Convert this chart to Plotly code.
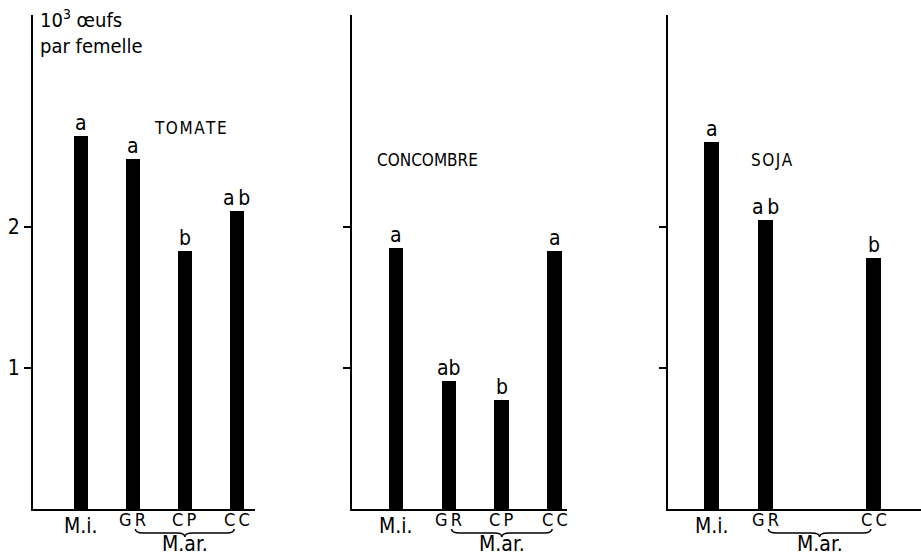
import plotly.graph_objects as go

categories = ["M.i.", "GR", "CP", "CC"]
panels = ["TOMATE", "CONCOMBRE", "SOJA"]

tomate_x = ["M.i.", "GR", "CP", "CC"]
tomate_vals = [2.64, 2.48, 1.83, 2.11]
tomate_sig = ["a", "a", "b", "a\u2009b"]

concombre_x = ["M.i.", "GR", "CP", "CC"]
concombre_vals = [1.85, 0.91, 0.77, 1.83]
concombre_sig = ["a", "ab", "b", "a"]

soja_x = ["M.i.", "GR", "CC"]
soja_vals = [2.60, 2.05, 1.78]
soja_sig = ["a", "a\u2009b", "b"]

tick_vals = [1, 2]
tick_text = ["1", "2"]

FONT = "DejaVu Sans Condensed, Roboto, sans-serif"
W, H = 921, 555

def py(p):
    return (H - p) / H

# panel geometry (pixel extents)
xdom = [(33, 255), (352, 567), (668, 921)]
xrng = [(-0.92, 3.35), (-0.83, 3.23), (-0.81, 3.88)]
ydom = [py(509), py(15)]

data = [(tomate_x, tomate_vals, tomate_sig),
        (concombre_x, concombre_vals, concombre_sig),
        (soja_x, soja_vals, soja_sig)]

fig = go.Figure()
annotations = []
shapes = []

for i, (xs, vals, sig) in enumerate(data):
    ax = "" if i == 0 else str(i + 1)
    fig.add_trace(go.Bar(x=xs, y=vals, xaxis="x" + ax, yaxis="y" + ax,
                         marker=dict(color="black", line=dict(width=0)),
                         width=0.28, showlegend=False, hoverinfo="skip"))
    xa = dict(domain=[xdom[i][0] / W, xdom[i][1] / W], range=list(xrng[i]),
              type="category", categoryorder="array", categoryarray=categories,
              showline=True, linecolor="black", linewidth=2, showticklabels=False,
              ticks="", showgrid=False, zeroline=False, anchor="y" + ax, fixedrange=True)
    ya = dict(domain=ydom, range=[0, 3.5], showline=True, linecolor="black", linewidth=2,
              ticks="outside", ticklen=7, tickwidth=2, tickcolor="black",
              tickvals=tick_vals, ticktext=tick_text, showticklabels=(i == 0),
              tickfont=dict(family=FONT, size=21, color="black"),
              showgrid=False, zeroline=False, anchor="x" + ax, fixedrange=True)
    fig.update_layout(**{"xaxis" + ax: xa, "yaxis" + ax: ya})

    # significance letters
    for x, v, s in zip(xs, vals, sig):
        annotations.append(dict(x=x, y=v, xref="x" + ax, yref="y" + ax, text=s,
                                showarrow=False, yanchor="bottom", yshift=-1,
                                font=dict(family=FONT, size=21, color="black")))
    # category labels
    for x in xs:
        if x == "M.i.":
            annotations.append(dict(x=x, y=py(526), xref="x" + ax, yref="paper", text="M.i.",
                                    showarrow=False, yanchor="middle",
                                    font=dict(family=FONT, size=21, color="black")))
        else:
            annotations.append(dict(x=x, y=py(519), xref="x" + ax, yref="paper",
                                    text="\u2009".join(list(x)),
                                    showarrow=False, yanchor="middle",
                                    font=dict(family=FONT, size=18, color="black")))
    # M.ar. group label with brace
    annotations.append(dict(x=2, y=py(544), xref="x" + ax, yref="paper", text="M.ar.",
                            showarrow=False, yanchor="middle",
                            font=dict(family=FONT, size=21, color="black")))
    x0, x1, xm = 1.05, 2.95, 2.0
    yt, ym, yb = py(529), py(533), py(537)
    q = 0.15
    path = (f"M {x0},{yt} Q {x0},{ym} {x0+q},{ym} L {xm-q},{ym} Q {xm},{ym} {xm},{yb} "
            f"Q {xm},{ym} {xm+q},{ym} L {x1-q},{ym} Q {x1},{ym} {x1},{yt}")
    shapes.append(dict(type="path", path=path, xref="x" + ax, yref="paper",
                       line=dict(color="black", width=1.5)))

# panel titles
title_pos = [(2.1, 128), (0.59, 160), (1.12, 160)]
for i, (name, (tx, ty)) in enumerate(zip(panels, title_pos)):
    ax = "" if i == 0 else str(i + 1)
    text = "\u200a".join(list(name)) if name != "CONCOMBRE" else name
    annotations.append(dict(x=tx, y=py(ty), xref="x" + ax, yref="paper", text=text,
                            showarrow=False, yanchor="middle",
                            font=dict(family=FONT, size=17, color="black")))

# y-axis unit label
annotations.append(dict(x=38 / W, y=py(4), xref="paper", yref="paper",
                        text="10<sup>3</sup> œufs<br>par femelle", align="left",
                        showarrow=False, xanchor="left", yanchor="top",
                        font=dict(family=FONT, size=20, color="black")))

fig.update_layout(width=W, height=H, margin=dict(l=0, r=0, t=0, b=0),
                  paper_bgcolor="white", plot_bgcolor="white",
                  annotations=annotations, shapes=shapes, bargap=0)

fig.write_html("out.html", config={"displayModeBar": False},
               post_script="document.body.style.margin='0';document.body.style.overflow='hidden';")
